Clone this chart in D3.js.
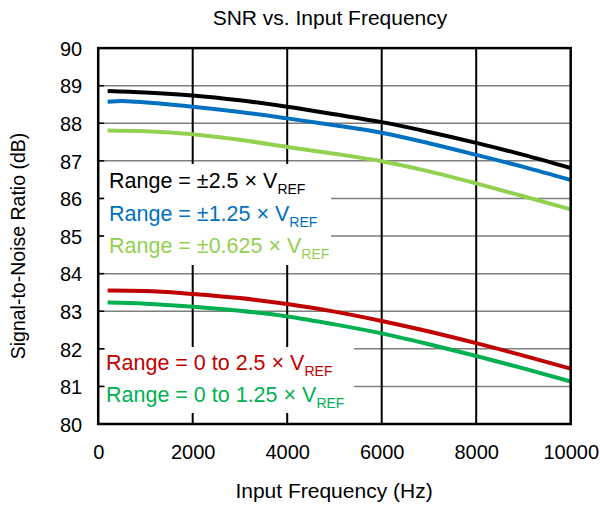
<!DOCTYPE html>
<html><head><meta charset="utf-8">
<script src="https://cdn.jsdelivr.net/npm/d3@7"></script>
<style>body{margin:0;background:#fff}svg{display:block;font-family:Arial,"Liberation Sans",sans-serif}</style>
</head><body><svg id="c" width="600" height="507"></svg>
<script>
const freqs = [200, 1000, 2000, 3000, 4000, 5000, 6000, 7000, 8000, 9000, 10000];
const freqsBlue = [200, 500, 800, 2000, 3000, 4000, 5000, 6000, 7000, 8000, 9000, 10000];
const snrBip25 = [88.86, 88.82, 88.74, 88.61, 88.44, 88.24, 88.03, 87.77, 87.48, 87.16, 86.81];
const snrBip125 = [88.57, 88.59, 88.57, 88.44, 88.30, 88.13, 87.95, 87.75, 87.47, 87.16, 86.84, 86.49];
const snrBip0625 = [87.81, 87.79, 87.71, 87.56, 87.37, 87.19, 86.99, 86.72, 86.40, 86.06, 85.71];
const snrUni25 = [83.55, 83.54, 83.46, 83.35, 83.19, 82.99, 82.74, 82.46, 82.15, 81.82, 81.47];
const snrUni125 = [83.23, 83.20, 83.12, 83.01, 82.86, 82.65, 82.41, 82.12, 81.81, 81.48, 81.13];
const xTicks = [0, 2000, 4000, 6000, 8000, 10000];
const yTicks = [80, 81, 82, 83, 84, 85, 86, 87, 88, 89, 90];
const seriesNames = ["Range = ±2.5 × V", "Range = ±1.25 × V", "Range = ±0.625 × V", "Range = 0 to 2.5 × V", "Range = 0 to 1.25 × V"];
const colors = ["#000000", "#0070c0", "#92d050", "#c00000", "#00b050"];

const series = [
  {x: freqs, y: snrBip25},
  {x: freqsBlue, y: snrBip125},
  {x: freqs, y: snrBip0625},
  {x: freqs, y: snrUni25},
  {x: freqs, y: snrUni125}
];

const svg = d3.select("#c");
const L = 98.2, R = 570.7, T = 48.1, B = 424;
const x = d3.scaleLinear().domain([0, 10000]).range([L, R]);
const y = d3.scaleLinear().domain([80, 90]).range([B, T]);

// horizontal grid
svg.append("g").selectAll("line").data(yTicks.slice(1, -1)).join("line")
  .attr("x1", L).attr("x2", R).attr("y1", d => y(d)).attr("y2", d => y(d))
  .attr("stroke", "#7f7f7f").attr("stroke-width", 1.5);
// vertical grid
svg.append("g").selectAll("line").data(xTicks.slice(1, -1)).join("line")
  .attr("x1", d => x(d)).attr("x2", d => x(d)).attr("y1", T).attr("y2", B)
  .attr("stroke", "#000").attr("stroke-width", 2);

// lines
const line = d3.line().curve(d3.curveMonotoneX);
series.forEach((s, i) => {
  svg.append("path").attr("d", line(s.x.map((f, j) => [x(f), y(s.y[j])])))
    .attr("fill", "none").attr("stroke", colors[i]).attr("stroke-width", 4)
    .attr("stroke-linecap", "butt");
});

// legend boxes (white backgrounds)
svg.append("rect").attr("x", 104).attr("y", 164).attr("width", 227).attr("height", 101).attr("fill", "#fff");
svg.append("rect").attr("x", 105).attr("y", 347).attr("width", 249).attr("height", 66).attr("fill", "#fff");

// inner ticks on left
svg.append("g").selectAll("line").data(yTicks).join("line")
  .attr("x1", L).attr("x2", L + 6).attr("y1", d => y(d)).attr("y2", d => y(d))
  .attr("stroke", "#000").attr("stroke-width", 1.5);

// border
svg.append("rect").attr("x", L).attr("y", T).attr("width", R - L).attr("height", B - T)
  .attr("fill", "none").attr("stroke", "#000").attr("stroke-width", 2.5);

const yAxis = svg.append("g").attr("transform", `translate(${L - 13},0)`)
  .call(d3.axisLeft(y).tickValues(yTicks).tickSize(0).tickFormat(d3.format("d")));
yAxis.select(".domain").remove();
yAxis.selectAll("text").attr("font-size", 20).attr("fill", "#000").attr("font-family", "Arial, 'Liberation Sans', sans-serif").attr("dy", "0.36em");

const xAxis = svg.append("g").attr("transform", `translate(0,${B + 18})`)
  .call(d3.axisBottom(x).tickValues(xTicks).tickSize(0).tickFormat(d3.format("d")));
xAxis.select(".domain").remove();
xAxis.selectAll("text").attr("font-size", 20).attr("fill", "#000").attr("font-family", "Arial, 'Liberation Sans', sans-serif").attr("dy", "0.72em");

// title
svg.append("text").attr("x", 330).attr("y", 25).attr("text-anchor", "middle")
  .attr("font-size", 21).text("SNR vs. Input Frequency");
// x label
svg.append("text").attr("x", 334).attr("y", 498).attr("text-anchor", "middle")
  .attr("font-size", 21).text("Input Frequency (Hz)");
// y label
svg.append("text").attr("transform", "translate(25,246) rotate(-90)").attr("text-anchor", "middle")
  .attr("font-size", 19.5).text("Signal-to-Noise Ratio (dB)");

// legend texts
const legendPos = [[109, 188], [109, 221], [109, 253], [106, 370], [106, 402]];
seriesNames.forEach((n, i) => {
  const t = svg.append("text").attr("x", legendPos[i][0]).attr("y", legendPos[i][1])
    .attr("font-size", 21.5).attr("fill", colors[i]);
  t.append("tspan").text(n);
  t.append("tspan").attr("font-size", 14).attr("dy", 6).text("REF");
});
</script></body></html>
